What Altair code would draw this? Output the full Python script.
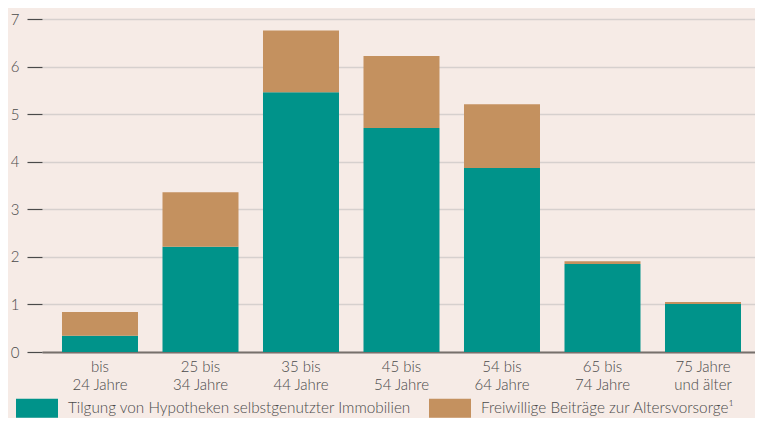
import altair as alt
import pandas as pd

categories = ["bis\n24 Jahre", "25 bis\n34 Jahre", "35 bis\n44 Jahre", "45 bis\n54 Jahre",
              "54 bis\n64 Jahre", "65 bis\n74 Jahre", "75 Jahre\nund älter"]
tilgung = [0.34, 2.21, 5.46, 4.71, 3.87, 1.85, 1.01]
beitraege = [0.50, 1.15, 1.30, 1.51, 1.34, 0.06, 0.04]
series = ["Tilgung von Hypotheken selbstgenutzter Immobilien",
          "Freiwillige Beiträge zur Altersvorsorge¹"]
colors = ["#00938A", "#C4915F"]
y_ticks = [0, 1, 2, 3, 4, 5, 6, 7]

rows = []
for c, t, b in zip(categories, tilgung, beitraege):
    rows.append({"cat": c, "serie": series[0], "wert": t, "ord": 0})
    rows.append({"cat": c, "serie": series[1], "wert": b, "ord": 1})
df = pd.DataFrame(rows)

FONT = "Lato"
TXT = "#4a4a4a"

chart = alt.Chart(df).mark_bar(size=76).encode(
    x=alt.X("cat:N", sort=categories, title=None,
            scale=alt.Scale(paddingInner=0.244, paddingOuter=0.16925, align=0.588),
            axis=alt.Axis(labelAngle=0, labelExpr="split(datum.label, '\\n')",
                          labelFont=FONT, labelFontSize=15, labelFontWeight=300,
                          labelColor=TXT, labelPadding=7, labelLineHeight=18,
                          ticks=False, domainColor="#77706C", domainWidth=2,
                          labelBaseline="top")),
    y=alt.Y("wert:Q", stack="zero", title=None,
            scale=alt.Scale(domain=[0, 7], nice=False),
            axis=alt.Axis(values=y_ticks, format="d", labelFont=FONT, labelFontSize=15,
                          labelFontWeight=300, labelColor=TXT, labelPadding=8,
                          tickSize=15, tickColor="#4a4a4a", tickWidth=1.2,
                          domain=False, gridColor="#D6D0CE", gridWidth=1.5)),
    color=alt.Color("serie:N", sort=series,
                    scale=alt.Scale(domain=series, range=colors),
                    legend=alt.Legend(title=None, orient="none", direction="horizontal",
                                      legendX=-26, legendY=368,
                                      symbolType="M-1,-0.45H1V0.45H-1Z", symbolSize=1764,
                                      symbolStrokeWidth=0, symbolOpacity=1,
                                      labelFont=FONT, labelFontSize=15.3, labelFontWeight=300,
                                      labelColor=TXT, labelOffset=10, columnPadding=18,
                                      labelLimit=500)),
    order=alt.Order("ord:Q", sort="ascending"),
).properties(
    width=713, height=333,
    autosize=alt.AutoSizeParams(type="none"),
    padding={"left": 34, "top": 11, "right": 0, "bottom": 66},
    background="#F6EBE6",
).configure_view(stroke=None)

chart.save("out.html", embed_options={"renderer": "svg", "actions": False})
